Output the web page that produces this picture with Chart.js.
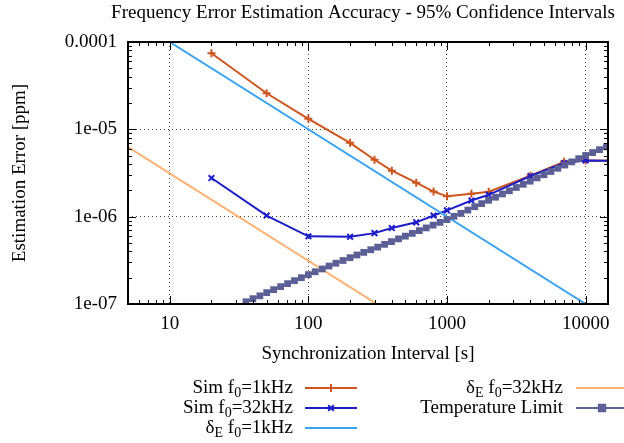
<!DOCTYPE html>
<html lang="en">
<head>
<meta charset="UTF-8">
<title>Frequency Error Estimation Accuracy</title>
<script src="https://cdn.jsdelivr.net/npm/chart.js"></script>
<style>
    body { margin: 0; background: #ffffff; }
    #wrap { width: 624px; height: 443px; }
</style>
</head>
<body>
<div id="wrap"><canvas id="chart" width="624" height="443"></canvas></div>
<script>
// axis ticks
const xTicks = [10, 100, 1000, 10000];
const xTickLabels = ['10', '100', '1000', '10000'];
const yTicks = [1e-7, 1e-6, 1e-5, 1e-4];
const yTickLabels = ['1e-07', '1e-06', '1e-05', '0.0001'];

// simulation results
const simX = [20, 50, 100, 200, 300, 400, 600, 800, 1000, 1500, 2000, 4000, 7000, 10000, 15000];
const sim1k = [7.43e-5, 2.59e-5, 1.32e-5, 7.0e-6, 4.48e-6, 3.36e-6, 2.45e-6, 1.94e-6, 1.71e-6, 1.83e-6, 1.93e-6, 2.94e-6, 4.25e-6, 4.40e-6, 4.38e-6];
const sim32k = [2.77e-6, 1.03e-6, 5.96e-7, 5.88e-7, 6.48e-7, 7.40e-7, 8.61e-7, 1.03e-6, 1.18e-6, 1.53e-6, 1.78e-6, 2.92e-6, 4.12e-6, 4.41e-6, 4.35e-6];

// delta_E lines
const de1kX = [10, 10000];
const de1k = [1e-4, 1e-7];
const de32kX = [5, 312.5];
const de32k = [6.25e-6, 1e-7];

// temperature limit
const tempX = [35.5, 39.8, 44.7, 50.1, 56.2, 63.1, 70.8, 79.4, 89.1, 100,
    112, 126, 141, 158, 178, 200, 224, 251, 282, 316,
    355, 398, 447, 501, 562, 631, 708, 794, 891, 1000,
    1122, 1259, 1413, 1585, 1778, 1995, 2239, 2512, 2818, 3162,
    3548, 3981, 4467, 5012, 5623, 6310, 7079, 7943, 8913, 10000,
    11220, 12589, 14125];
const tempY = [1.06e-7, 1.15e-7, 1.24e-7, 1.35e-7, 1.46e-7, 1.58e-7, 1.71e-7, 1.85e-7, 2.00e-7, 2.17e-7,
    2.34e-7, 2.52e-7, 2.72e-7, 2.93e-7, 3.15e-7, 3.39e-7, 3.64e-7, 3.90e-7, 4.18e-7, 4.48e-7,
    4.82e-7, 5.18e-7, 5.57e-7, 5.98e-7, 6.44e-7, 6.92e-7, 7.44e-7, 8.00e-7, 8.60e-7, 9.25e-7,
    1.01e-6, 1.09e-6, 1.19e-6, 1.30e-6, 1.41e-6, 1.54e-6, 1.67e-6, 1.82e-6, 1.98e-6, 2.16e-6,
    2.35e-6, 2.55e-6, 2.78e-6, 3.02e-6, 3.29e-6, 3.58e-6, 3.90e-6, 4.24e-6, 4.61e-6, 5.02e-6,
    5.42e-6, 5.85e-6, 6.31e-6];

const FONT = "'Liberation Serif', 'Times New Roman', serif";
const COLORS = {
    sim1k: '#cc5520',
    sim32k: '#1c1cc8',
    de1k: '#3aa2f0',
    de32k: '#ffb070',
    temp: '#5b5f96'
};

function pts(xs, ys) {
    return xs.map((x, i) => ({ x: x, y: ys[i] }));
}

// draw a string where "_X" means subscript X
function drawSubText(ctx, str, xRight, y, size) {
    const parts = [];
    for (let i = 0; i < str.length; i++) {
        if (str[i] === '_' && i + 1 < str.length) {
            parts.push({ t: str[i + 1], sub: true });
            i++;
        } else {
            if (parts.length && !parts[parts.length - 1].sub) parts[parts.length - 1].t += str[i];
            else parts.push({ t: str[i], sub: false });
        }
    }
    const main = size + 'px ' + FONT;
    const small = Math.round(size * 0.72) + 'px ' + FONT;
    let total = 0;
    parts.forEach(p => {
        ctx.font = p.sub ? small : main;
        p.w = ctx.measureText(p.t).width;
        total += p.w;
    });
    let x = xRight - total;
    ctx.textAlign = 'left';
    ctx.textBaseline = 'middle';
    parts.forEach(p => {
        ctx.font = p.sub ? small : main;
        ctx.fillText(p.t, x, p.sub ? y + 5 : y);
        x += p.w;
    });
}

const legendItems = [
    { label: 'Sim f_0=1kHz', color: COLORS.sim1k, style: 'cross', col: 0, row: 0 },
    { label: 'Sim f_0=32kHz', color: COLORS.sim32k, style: 'crossRot', col: 0, row: 1 },
    { label: 'δ_E f_0=1kHz', color: COLORS.de1k, style: null, col: 0, row: 2 },
    { label: 'δ_E f_0=32kHz', color: COLORS.de32k, style: null, col: 1, row: 0 },
    { label: 'Temperature Limit', color: COLORS.temp, style: 'rect', col: 1, row: 1 }
];

const framePlugin = {
    id: 'frame',
    afterDraw(chart) {
        const ctx = chart.ctx;
        const a = chart.chartArea;
        const xs = chart.scales.x, ys = chart.scales.y;
        ctx.save();
        ctx.strokeStyle = '#000';
        ctx.lineWidth = 1;
        // minor and major ticks, pointing inwards
        ctx.beginPath();
        for (let d = 1; d <= 10000; d *= 10) {
            for (let m = 1; m <= 9; m++) {
                const v = d * m;
                if (v < xs.min || v > xs.max) continue;
                const px = Math.round(xs.getPixelForValue(v)) + 0.5;
                const len = m === 1 ? 8 : 4;
                ctx.moveTo(px, a.bottom); ctx.lineTo(px, a.bottom - len);
                ctx.moveTo(px, a.top); ctx.lineTo(px, a.top + len);
            }
        }
        for (let d = 1e-7; d <= 1.01e-4; d *= 10) {
            for (let m = 1; m <= 9; m++) {
                const v = d * m;
                if (v < ys.min * 0.999 || v > ys.max * 1.001) continue;
                const py = Math.round(ys.getPixelForValue(v)) + 0.5;
                const len = m === 1 ? 8 : 4;
                ctx.moveTo(a.left, py); ctx.lineTo(a.left + len, py);
                ctx.moveTo(a.right, py); ctx.lineTo(a.right - len, py);
            }
        }
        ctx.stroke();
        ctx.lineWidth = 2;
        ctx.strokeRect(a.left, a.top, a.right - a.left, a.bottom - a.top);

        // title
        ctx.fillStyle = '#000';
        ctx.font = '19px ' + FONT;
        ctx.textAlign = 'center';
        ctx.textBaseline = 'middle';
        ctx.fillText('Frequency Error Estimation Accuracy - 95% Confidence Intervals', (a.left + a.right) / 2 - 5, 13);

        // legend
        const textRight = [293, 563];
        const lineStart = [305, 576];
        legendItems.forEach(it => {
            const y = 388 + it.row * 20;
            ctx.fillStyle = '#000';
            drawSubText(ctx, it.label, textRight[it.col], y, 19);
            const x0 = lineStart[it.col], x1 = x0 + 52;
            ctx.strokeStyle = it.color;
            ctx.lineWidth = 2;
            ctx.beginPath();
            ctx.moveTo(x0, y); ctx.lineTo(x1, y);
            ctx.stroke();
            if (it.style) {
                Chart.helpers.drawPoint(ctx, {
                    pointStyle: it.style,
                    radius: it.style === 'rect' ? 4.5 : 4,
                    borderWidth: 2
                }, (x0 + x1) / 2, y);
                ctx.fillStyle = it.color;
                if (it.style === 'rect') ctx.fill();
            }
        });
        ctx.restore();
    }
};

const ctx = document.getElementById('chart').getContext('2d');
new Chart(ctx, {
    type: 'scatter',
    data: {
        datasets: [
            {
                label: 'Sim f0=1kHz',
                data: pts(simX, sim1k),
                showLine: true,
                borderColor: COLORS.sim1k,
                backgroundColor: COLORS.sim1k,
                borderWidth: 2,
                pointStyle: 'cross',
                pointRadius: 4,
                pointBorderWidth: 2,
                clip: 0,
                order: 5
            },
            {
                label: 'Sim f0=32kHz',
                data: pts(simX, sim32k),
                showLine: true,
                borderColor: COLORS.sim32k,
                backgroundColor: COLORS.sim32k,
                borderWidth: 2,
                pointStyle: 'crossRot',
                pointRadius: 4,
                pointBorderWidth: 2,
                clip: 0,
                order: 4
            },
            {
                label: 'δE f0=1kHz',
                data: pts(de1kX, de1k),
                showLine: true,
                borderColor: COLORS.de1k,
                borderWidth: 2,
                pointRadius: 0,
                clip: 0,
                order: 3
            },
            {
                label: 'δE f0=32kHz',
                data: pts(de32kX, de32k),
                showLine: true,
                borderColor: COLORS.de32k,
                borderWidth: 2,
                pointRadius: 0,
                clip: 0,
                order: 2
            },
            {
                label: 'Temperature Limit',
                data: pts(tempX, tempY),
                showLine: true,
                borderColor: COLORS.temp,
                backgroundColor: COLORS.temp,
                borderWidth: 2,
                pointStyle: 'rect',
                pointRadius: 4.8,
                pointBorderWidth: 0,
                clip: 0,
                order: 1
            }
        ]
    },
    options: {
        responsive: false,
        animation: false,
        layout: { padding: { top: 42, right: 16, bottom: 69, left: 0 } },
        plugins: {
            legend: { display: false },
            title: { display: false },
            tooltip: { enabled: false }
        },
        scales: {
            x: {
                type: 'logarithmic',
                min: 5,
                max: 14500,
                afterFit(scale) { scale.height = 70; },
                afterBuildTicks(scale) { scale.ticks = xTicks.map(v => ({ value: v })); },
                grid: { color: '#444', drawTicks: false },
                border: { display: false, dash: [1, 3] },
                ticks: {
                    padding: 9,
                    color: '#000',
                    font: { family: FONT, size: 19 },
                    callback: (v) => xTickLabels[xTicks.indexOf(v)]
                },
                title: {
                    display: true,
                    text: 'Synchronization Interval [s]',
                    color: '#000',
                    font: { family: FONT, size: 19 },
                    padding: { top: 0, bottom: 9 }
                }
            },
            y: {
                type: 'logarithmic',
                min: 1e-7,
                max: 1e-4,
                afterFit(scale) { scale.width = 128; },
                afterBuildTicks(scale) { scale.ticks = yTicks.map(v => ({ value: v })); },
                grid: { color: '#444', drawTicks: false },
                border: { display: false, dash: [1, 3] },
                ticks: {
                    padding: 11,
                    color: '#000',
                    font: { family: FONT, size: 19 },
                    callback: (v) => yTickLabels[yTicks.indexOf(v)]
                },
                title: {
                    display: true,
                    text: 'Estimation Error [ppm]',
                    color: '#000',
                    font: { family: FONT, size: 19 },
                    padding: { top: 9, bottom: 0 }
                }
            }
        }
    },
    plugins: [framePlugin]
});
</script>
</body>
</html>
